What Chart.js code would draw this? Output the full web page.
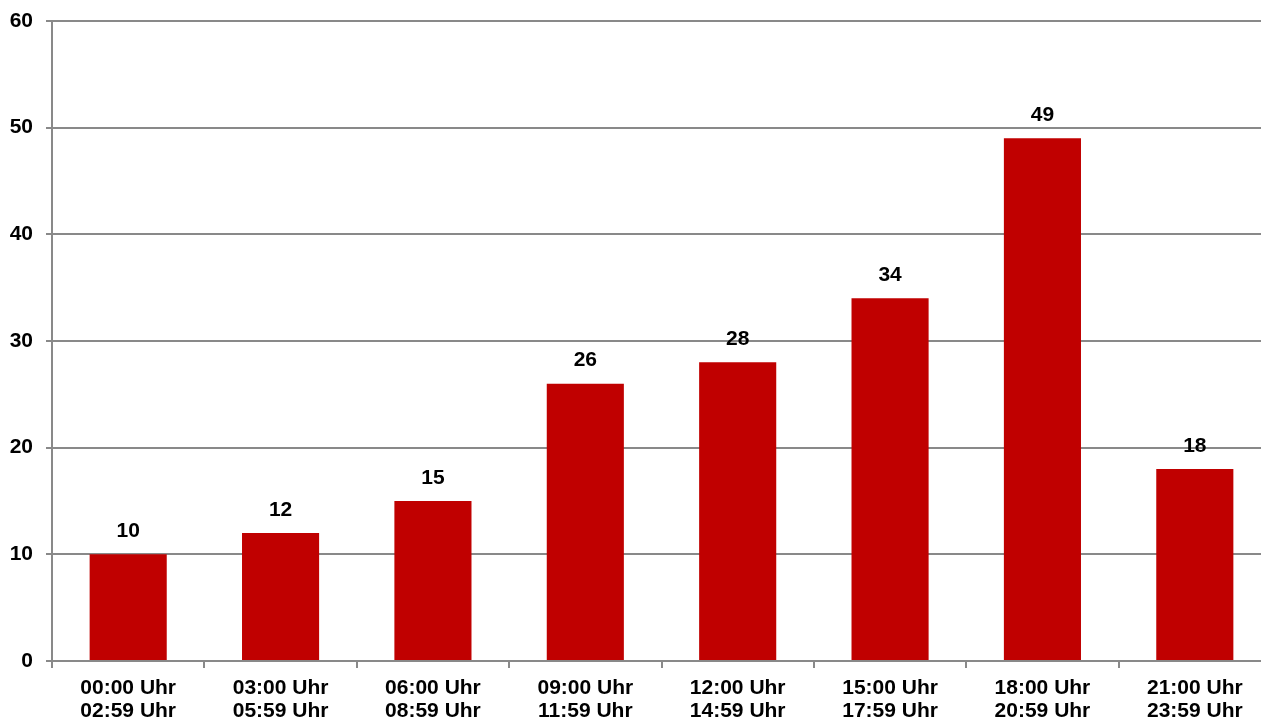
<!DOCTYPE html>
<html>
<head>
<meta charset="utf-8">
<script src="https://cdn.jsdelivr.net/npm/chart.js@4/dist/chart.umd.min.js"></script>
<style>
  html, body { margin: 0; padding: 0; background: #fff; overflow: hidden; }
  /* the original chart is cut off a little on the right */
  #wrap { width: 1271px; height: 719px; }
</style>
</head>
<body>
<div id="wrap"><canvas id="timeChart"></canvas></div>
<script>
// time slots and counts
const slotLabels = [
    ['00:00 Uhr', '02:59 Uhr'],
    ['03:00 Uhr', '05:59 Uhr'],
    ['06:00 Uhr', '08:59 Uhr'],
    ['09:00 Uhr', '11:59 Uhr'],
    ['12:00 Uhr', '14:59 Uhr'],
    ['15:00 Uhr', '17:59 Uhr'],
    ['18:00 Uhr', '20:59 Uhr'],
    ['21:00 Uhr', '23:59 Uhr']
];
const counts = [10, 12, 15, 26, 28, 34, 49, 18];
const yTicks = [0, 10, 20, 30, 40, 50, 60];

Chart.defaults.font.family = "'Liberation Sans', Arial, sans-serif";
Chart.defaults.font.weight = 'bold';
Chart.defaults.font.size = 21;
Chart.defaults.font.lineHeight = '23px';
Chart.defaults.color = '#000';

// value labels above each bar
const valueLabels = {
    id: 'valueLabels',
    afterDatasetsDraw(chart) {
        const ctx = chart.ctx;
        const meta = chart.getDatasetMeta(0);
        ctx.save();
        ctx.font = "bold 21px 'Liberation Sans', Arial, sans-serif";
        ctx.fillStyle = '#000';
        ctx.textAlign = 'center';
        ctx.textBaseline = 'middle';
        meta.data.forEach((bar, i) => {
            ctx.fillText(String(counts[i]), bar.x, bar.y - 23);
        });
        ctx.restore();
    }
};

const ctx = document.getElementById('timeChart').getContext('2d');
new Chart(ctx, {
    type: 'bar',
    data: {
        labels: slotLabels,
        datasets: [{
            data: counts,
            backgroundColor: '#C00000',
            borderWidth: 0,
            categoryPercentage: 1,
            barPercentage: 0.506
        }]
    },
    options: {
        responsive: true,
        maintainAspectRatio: false,
        animation: false,
        layout: { padding: { top: 21, right: 0, left: 0, bottom: 0 } },
        plugins: {
            legend: { display: false },
            tooltip: { enabled: false }
        },
        scales: {
            y: {
                min: 0,
                max: 60,
                afterBuildTicks: axis => { axis.ticks = yTicks.map(v => ({ value: v })); },
                afterFit: axis => {
                    axis.width = 52;
                    axis.paddingTop = 0;
                    axis.paddingBottom = 0;
                },
                grid: { color: '#898989', lineWidth: 2, tickLength: 6 },
                border: { color: '#898989', width: 2 },
                ticks: { padding: 13 }
            },
            x: {
                afterFit: axis => { axis.height = 58; },
                grid: {
                    offset: true,
                    drawOnChartArea: false,
                    color: '#898989',
                    lineWidth: 2,
                    tickLength: 7
                },
                border: { color: '#898989', width: 2 },
                ticks: { padding: 9, maxRotation: 0, autoSkip: false }
            }
        }
    },
    plugins: [valueLabels]
});
</script>
</body>
</html>
